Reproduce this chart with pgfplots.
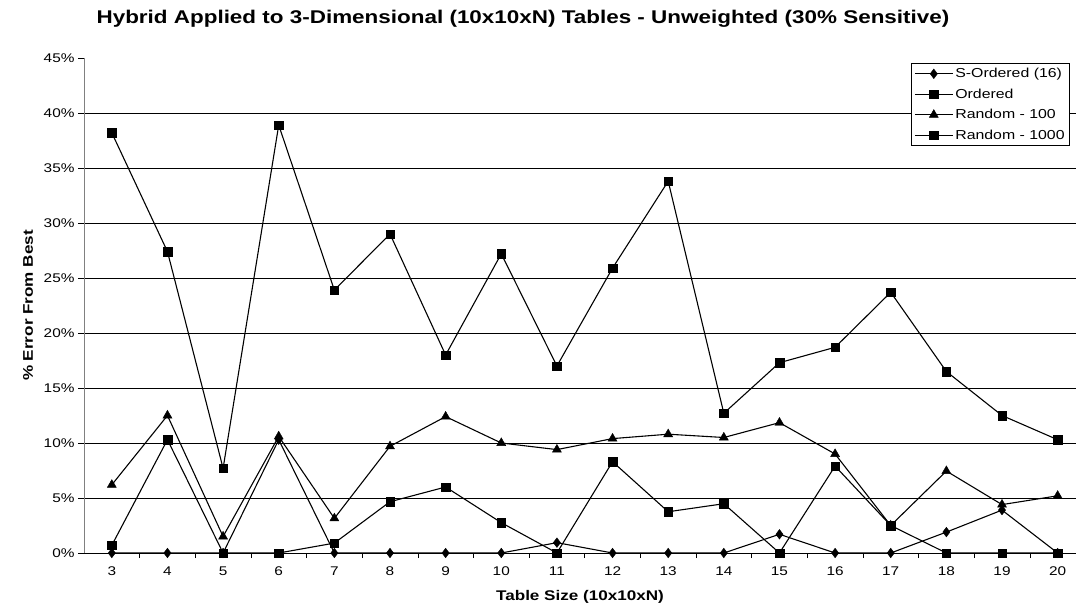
\documentclass[border=0pt]{standalone}
\usepackage{pgfplots}
\pgfplotsset{compat=1.18}
\usepackage{pgfplotstable}
\usepackage{fontspec}
\setmainfont{Liberation Sans}[FakeStretch=1.22]

% table size N, then % error from best for each method
\pgfplotstableread{
N  sord  ord   r100  r1000
3  0     38.2  6.2   0.7
4  0     27.4  12.5  10.3
5  0     7.7   1.5   0
6  10.3  38.9  10.6  0
7  0     23.9  3.15  0.9
8  0     29.0  9.7   4.66
9  0     18.0  12.4  6.0
10 0     27.2  10.0  2.76
11 0.94  17.0  9.4   0
12 0     25.9  10.4  8.3
13 0     33.8  10.8  3.75
14 0     12.7  10.5  4.48
15 1.7   17.3  11.85 0
16 0     18.7  9.0   7.9
17 0     23.7  2.5   2.5
18 1.9   16.5  7.45  0
19 3.9   12.5  4.4   0
20 0     10.3  5.2   0
}\errtable

\begin{document}
\begin{tikzpicture}
\useasboundingbox (-84bp,-56bp) rectangle (992bp,553bp);
\begin{axis}[
  scale only axis, width=992bp, height=495bp,
  at={(0,0)}, anchor=south west,
  xmin=2.5, xmax=20.33, ymin=0, ymax=45,
  axis x line*=bottom, axis y line*=left,
  x axis line style={black, line width=0.8pt, -},
  y axis line style={gray, line width=1pt, -},
  xtick={3,...,20},
  xticklabels={3,4,5,6,7,8,9,10,11,12,13,14,15,16,17,18,19,20},
  minor xtick={3.5,4.5,...,19.5},
  major x tick style={draw=none},
  minor x tick style={black, line width=0.6pt},
  minor tick length=5bp,
  ytick={0,5,...,40},
  extra y ticks={45}, extra y tick labels={45\%},
  extra y tick style={grid=none},
  yticklabel={\pgfmathprintnumber{\tick}\%},
  /pgf/number format/assume math mode=true,
  tick align=outside, major tick length=6bp,
  ytick style={black, line width=0.6pt},
  ymajorgrids, major grid style={black, line width=0.7pt},
  tick label style={font=\fontsize{12.6bp}{14bp}\selectfont},
  xticklabel style={yshift=-4bp},
  ylabel={\textbf{\% Error From Best}},
  xlabel={\textbf{Table Size (10x10xN)}},
  label style={font=\fontsize{14bp}{16bp}\selectfont},
  ylabel style={at={(axis description cs:-0.0565,0.5)}, anchor=center, rotate=0},
  xlabel style={at={(axis description cs:0.5,-0.0889)}, anchor=center},
  title={\textbf{Hybrid Applied to 3-Dimensional (10x10xN) Tables - Unweighted (30\% Sensitive)}},
  title style={at={(axis description cs:0.4425,1)}, anchor=center, yshift=33bp,
    font=\fontsize{18.4bp}{20bp}\selectfont},
  legend cell align=left,
  legend style={at={(rel axis cs:0.994,0.99)}, anchor=north east,
    draw=black, line width=0.8pt, fill=white,
    font=\fontsize{13bp}{15bp}\selectfont, row sep=5.6bp, inner sep=3bp},
  legend image code/.code={
    \draw[mark repeat=2, mark phase=2] plot coordinates {(0bp,0bp) (19bp,0bp) (38bp,0bp)};},
  every axis plot/.append style={black, line width=1.1pt, mark options={solid, fill=black, line width=0.4pt}},
]
\addplot[mark=diamond*, mark size=4.8bp] table[x=N, y=sord] {\errtable};
\addlegendentry{S-Ordered (16)}
\addplot[mark=square*, mark size=4.3bp] table[x=N, y=ord] {\errtable};
\addlegendentry{Ordered}
\addplot[mark=triangle*, mark size=5.2bp] table[x=N, y=r100] {\errtable};
\addlegendentry{Random - 100}
\addplot[mark=square*, mark size=4.3bp] table[x=N, y=r1000] {\errtable};
\addlegendentry{Random - 1000}
\end{axis}
\end{tikzpicture}
\end{document}
